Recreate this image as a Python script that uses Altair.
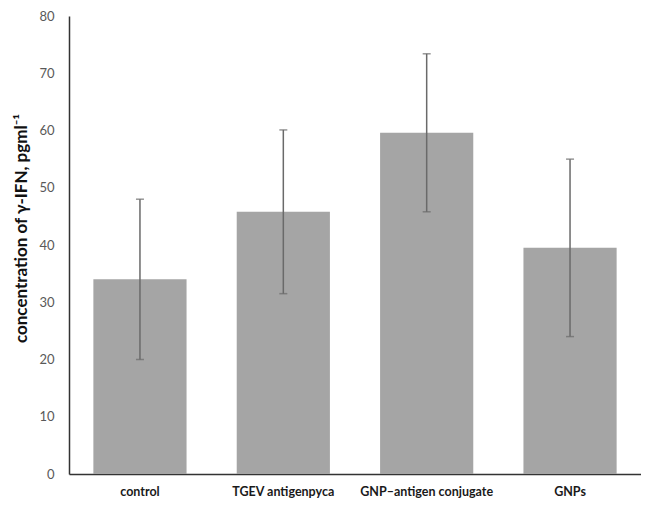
import altair as alt
import pandas as pd

groups = ["control", "TGEV antigenpyca", "GNP\u2013antigen conjugate", "GNPs"]
means = [34.0, 45.8, 59.6, 39.5]
errors = [14.0, 14.3, 13.8, 15.5]

df = pd.DataFrame({"group": groups, "mean": means, "err": errors})
df["lo"] = df["mean"] - df["err"]
df["hi"] = df["mean"] + df["err"]

FONT = "Lato"

x = alt.X("group:N", sort=groups, title=None,
          scale=alt.Scale(paddingInner=0.35, paddingOuter=0.17),
          axis=alt.Axis(labelAngle=0, labelFont=FONT, labelFontWeight="bold",
                        labelFontSize=12.5, labelColor="#1a1a1a", tickSize=0,
                        labelPadding=11, domainColor="#333333", domainWidth=1.5))
y_axis = alt.Axis(values=[0, 10, 20, 30, 40, 50, 60, 70, 80], grid=False, tickSize=0,
                  labelFont=FONT, labelFontSize=13, labelColor="#595959", labelPadding=15,
                  domainColor="#333333", domainWidth=1.5,
                  title="concentration of \u03b3-IFN, pgml\u207b\u00b9",
                  titleFont=FONT, titleFontSize=17, titleFontWeight="bold",
                  titleColor="#111111", titlePadding=8, titleY=212)

bars = alt.Chart(df).mark_bar(color="#a5a5a5").encode(
    x=x,
    y=alt.Y("mean:Q", scale=alt.Scale(domain=[0, 80], nice=False), axis=y_axis),
)
rules = alt.Chart(df).mark_rule(color="#6a6a6a", strokeWidth=1.5).encode(
    x=alt.X("group:N", sort=groups), y="lo:Q", y2="hi:Q"
)
caps_lo = alt.Chart(df).mark_tick(color="#6a6a6a", size=8, thickness=1.5, orient="horizontal").encode(
    x=alt.X("group:N", sort=groups), y="lo:Q"
)
caps_hi = alt.Chart(df).mark_tick(color="#6a6a6a", size=8, thickness=1.5, orient="horizontal").encode(
    x=alt.X("group:N", sort=groups), y="hi:Q"
)

chart = alt.layer(bars, rules, caps_lo, caps_hi).properties(
    width=572, height=458,
    autosize=alt.AutoSizeParams(type="none"),
    padding={"left": 61, "top": 8, "right": 0, "bottom": 25},
).configure_view(stroke=None)

chart.save("out.html", embed_options={"renderer": "svg", "actions": False})
